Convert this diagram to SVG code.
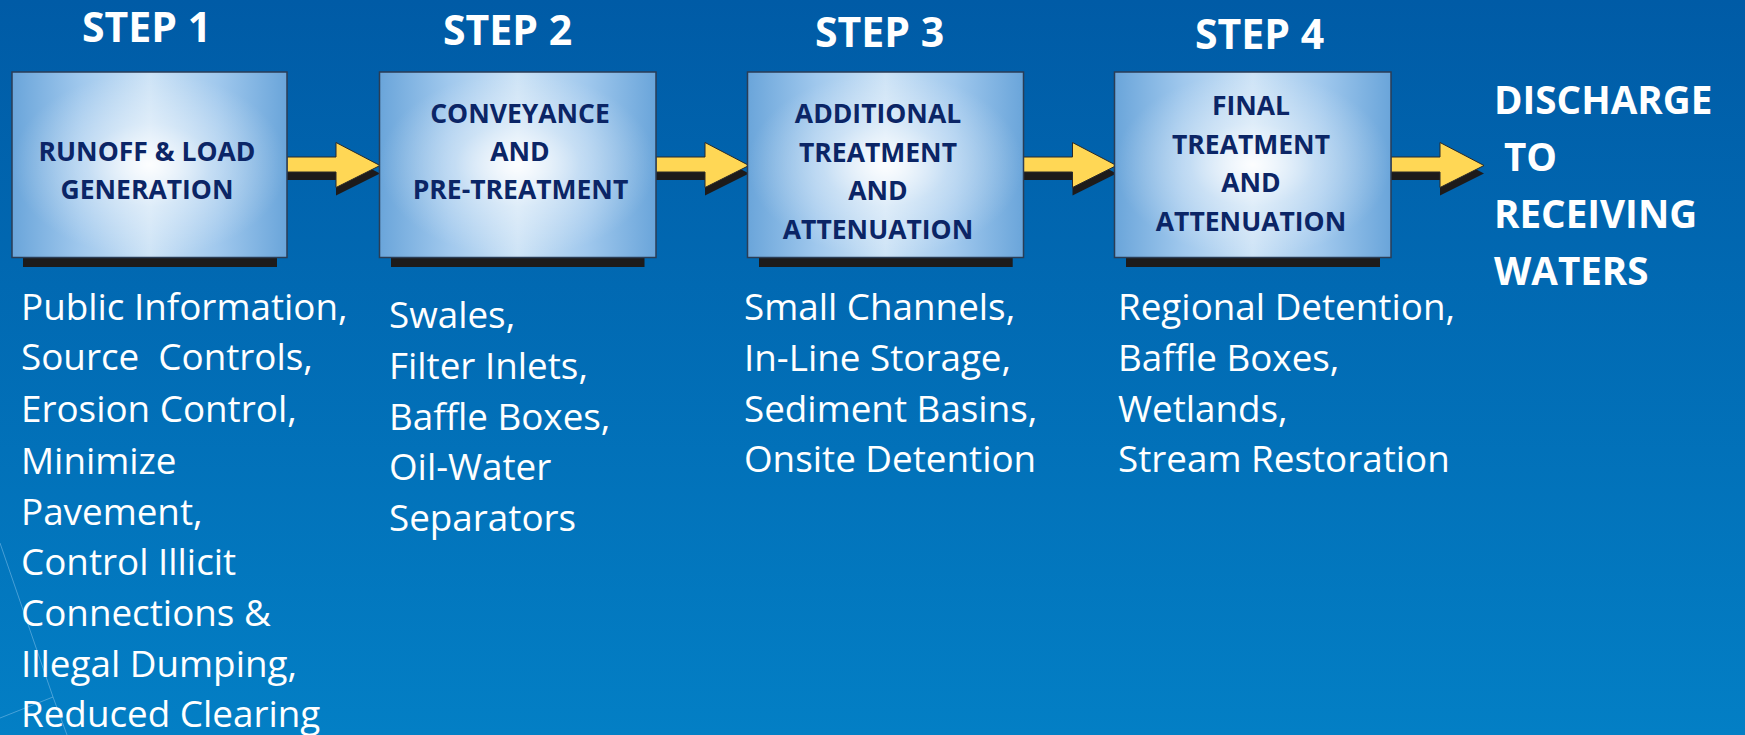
<svg xmlns="http://www.w3.org/2000/svg" width="1745" height="735" viewBox="0 0 1745 735">
  <defs>
    <linearGradient id="bg" x1="0" y1="0" x2="0" y2="1">
      <stop offset="0" stop-color="#005ba6"/>
      <stop offset="1" stop-color="#037fc5"/>
    </linearGradient>
    <linearGradient id="boxH" x1="0" y1="0" x2="1" y2="0">
      <stop offset="0" stop-color="#6aa5da"/>
      <stop offset="0.25" stop-color="#a0c8ed"/>
      <stop offset="0.5" stop-color="#cde3f6"/>
      <stop offset="0.75" stop-color="#a0c8ed"/>
      <stop offset="1" stop-color="#6aa5da"/>
    </linearGradient>
    <radialGradient id="boxGlow" cx="0.5" cy="0.5" r="0.5">
      <stop offset="0" stop-color="#ffffff" stop-opacity="0.95"/>
      <stop offset="0.45" stop-color="#ffffff" stop-opacity="0.35"/>
      <stop offset="1" stop-color="#ffffff" stop-opacity="0"/>
    </radialGradient>
    <!-- flow arrow: shaft then head, local origin at shaft start -->
    <path id="arrowShape" d="M0,0 H49 V-14.5 L93,8.5 L49,30.5 V15 H0 Z"/>
  </defs>
  <style>
    .step { font-family: "Open Sans", "Noto Sans", sans-serif; font-weight: 700; font-size: 41px; fill: #ffffff; }
    .boxtxt { font-family: "Open Sans", "Noto Sans", sans-serif; font-weight: 700; font-size: 26.5px; fill: #0b2566; text-anchor: middle; }
    .body { font-family: "Open Sans", "Noto Sans", sans-serif; font-size: 36.8px; fill: #ffffff; }
    .dest { font-family: "Open Sans", "Noto Sans", sans-serif; font-weight: 700; font-size: 38.6px; fill: #ffffff; }
    .shadow { fill: #1d1b1b; }
    .boxbase { fill: url(#boxH); stroke: #2b3d55; stroke-width: 1.5; }
    .boxglow { fill: url(#boxGlow); }
    .arrow { fill: #ffd755; stroke: #2a2a2a; stroke-width: 1; }
    .arrowShadow { fill: #1d1b1b; }
    .deco { stroke: #8cc6ee; stroke-width: 1; fill: none; opacity: 0.5; }
  </style>

  <!-- background -->
  <rect x="0" y="0" width="1745" height="735" fill="url(#bg)"/>
  <g id="background-lines">
    <polyline class="deco" points="0,543 53,697 67,735"/>
    <line class="deco" x1="0" y1="718" x2="53" y2="697"/>
  </g>

  <!-- step headings -->
  <g id="headings">
    <text class="step" x="82" y="42">STEP 1</text>
    <text class="step" x="443" y="45">STEP 2</text>
    <text class="step" x="815" y="47">STEP 3</text>
    <text class="step" x="1195" y="49">STEP 4</text>
  </g>

  <!-- connectors -->
  <g id="connectors">
    <g transform="translate(287,157)">
      <use href="#arrowShape" class="arrowShadow" transform="translate(0,8)"/>
      <use href="#arrowShape" class="arrow"/>
    </g>
    <g transform="translate(656,157)">
      <use href="#arrowShape" class="arrowShadow" transform="translate(0,8)"/>
      <use href="#arrowShape" class="arrow"/>
    </g>
    <g transform="translate(1023.5,157)">
      <use href="#arrowShape" class="arrowShadow" transform="translate(0,8)"/>
      <use href="#arrowShape" class="arrow"/>
    </g>
    <g transform="translate(1391,157)">
      <use href="#arrowShape" class="arrowShadow" transform="translate(0,8)"/>
      <use href="#arrowShape" class="arrow"/>
    </g>
  </g>

  <!-- step 1 -->
  <g id="step1">
    <rect class="shadow" x="23" y="240" width="254" height="27"/>
    <rect class="boxbase" x="12" y="72" width="275" height="185.5"/>
    <rect class="boxglow" x="12" y="72" width="275" height="185.5"/>
    <text class="boxtxt" x="147" y="161">RUNOFF &amp; LOAD</text>
    <text class="boxtxt" x="147" y="199">GENERATION</text>
  </g>

  <!-- step 2 -->
  <g id="step2">
    <rect class="shadow" x="391" y="240" width="253.5" height="27"/>
    <rect class="boxbase" x="379.5" y="72" width="276.5" height="185.5"/>
    <rect class="boxglow" x="379.5" y="72" width="276.5" height="185.5"/>
    <text class="boxtxt" x="520" y="122.7">CONVEYANCE</text>
    <text class="boxtxt" x="520" y="160.7">AND</text>
    <text class="boxtxt" x="520.5" y="199.3">PRE-TREATMENT</text>
  </g>

  <!-- step 3 -->
  <g id="step3">
    <rect class="shadow" x="759" y="240" width="253.7" height="27"/>
    <rect class="boxbase" x="747.5" y="72" width="276" height="185.5"/>
    <rect class="boxglow" x="747.5" y="72" width="276" height="185.5"/>
    <text class="boxtxt" x="878" y="123.3">ADDITIONAL</text>
    <text class="boxtxt" x="878" y="161.7">TREATMENT</text>
    <text class="boxtxt" x="878" y="200">AND</text>
    <text class="boxtxt" x="878" y="239">ATTENUATION</text>
  </g>

  <!-- step 4 -->
  <g id="step4">
    <rect class="shadow" x="1126" y="240" width="254" height="27"/>
    <rect class="boxbase" x="1114.5" y="72" width="276.5" height="185.5"/>
    <rect class="boxglow" x="1114.5" y="72" width="276.5" height="185.5"/>
    <text class="boxtxt" x="1251" y="115">FINAL</text>
    <text class="boxtxt" x="1251" y="154">TREATMENT</text>
    <text class="boxtxt" x="1251" y="192.3">AND</text>
    <text class="boxtxt" x="1251" y="230.7">ATTENUATION</text>
  </g>

  <!-- outfall -->
  <g id="discharge">
    <text class="dest" x="1494" y="114.3">DISCHARGE</text>
    <text class="dest" x="1494" y="171" xml:space="preserve"> TO</text>
    <text class="dest" x="1494" y="228.3">RECEIVING</text>
    <text class="dest" x="1494" y="285">WATERS</text>
  </g>

  <!-- practices under each step -->
  <g id="practices1">
    <text class="body" x="21" y="320">Public Information,</text>
    <text class="body" x="21" y="370" xml:space="preserve">Source  Controls,</text>
    <text class="body" x="21" y="422">Erosion Control,</text>
    <text class="body" x="21" y="474">Minimize</text>
    <text class="body" x="21" y="525">Pavement,</text>
    <text class="body" x="21" y="575">Control Illicit</text>
    <text class="body" x="21" y="626">Connections &amp;</text>
    <text class="body" x="21" y="677">Illegal Dumping,</text>
    <text class="body" x="21" y="727">Reduced Clearing</text>
  </g>
  <g id="practices2">
    <text class="body" x="389" y="328">Swales,</text>
    <text class="body" x="389" y="379">Filter Inlets,</text>
    <text class="body" x="389" y="430">Baffle Boxes,</text>
    <text class="body" x="389" y="480">Oil-Water</text>
    <text class="body" x="389" y="531">Separators</text>
  </g>
  <g id="practices3">
    <text class="body" x="744" y="320">Small Channels,</text>
    <text class="body" x="744" y="371">In-Line Storage,</text>
    <text class="body" x="744" y="422">Sediment Basins,</text>
    <text class="body" x="744" y="472">Onsite Detention</text>
  </g>
  <g id="practices4">
    <text class="body" x="1118" y="320">Regional Detention,</text>
    <text class="body" x="1118" y="371">Baffle Boxes,</text>
    <text class="body" x="1118" y="422">Wetlands,</text>
    <text class="body" x="1118" y="472">Stream Restoration</text>
  </g>
</svg>
